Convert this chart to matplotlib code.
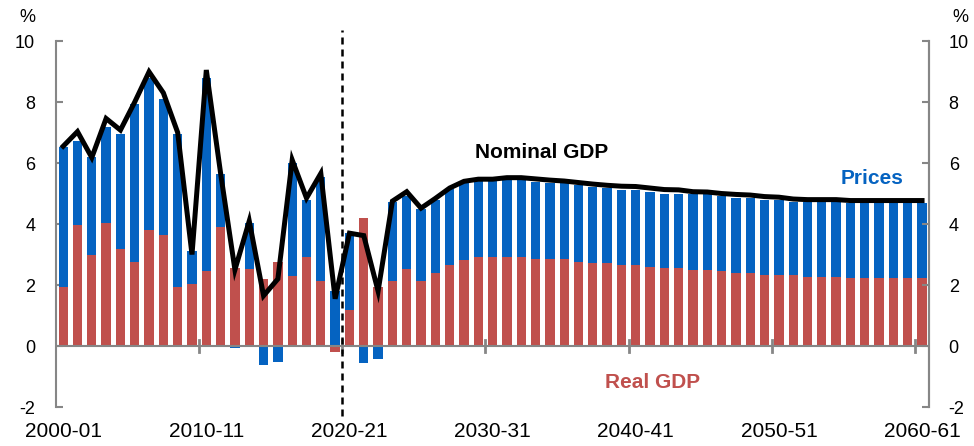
import matplotlib
matplotlib.use("Agg")
import matplotlib.pyplot as plt
import numpy as np

plt.rcParams['font.family'] = ['Liberation Sans', 'DejaVu Sans']
plt.rcParams['axes.unicode_minus'] = False

# financial years 2000-01 .. 2060-61
years = [f"{y}-{(y + 1) % 100:02d}" for y in range(2000, 2061)]

real_gdp = [1.92, 3.96, 2.97, 4.02, 3.17, 2.77, 3.80, 3.65, 1.92, 2.03,
            2.46, 3.89, 2.55, 2.51, 2.20, 2.77, 2.30, 2.92, 2.13, -0.21,
            1.18, 4.19, 1.95, 2.13, 2.51, 2.13, 2.39, 2.66, 2.82, 2.92,
            2.92, 2.92, 2.92, 2.86, 2.86, 2.86, 2.77, 2.71, 2.71, 2.66,
            2.66, 2.60, 2.55, 2.55, 2.49, 2.49, 2.46, 2.38, 2.38, 2.33,
            2.33, 2.33, 2.27, 2.27, 2.27, 2.22, 2.22, 2.22, 2.22, 2.22,
            2.22]

prices = [4.61, 2.77, 3.24, 3.17, 3.77, 5.16, 4.98, 4.44, 5.02, 1.10,
          6.32, 1.75, -0.05, 1.51, -0.62, -0.54, 3.69, 1.87, 3.41, 1.80,
          2.51, -0.57, -0.43, 2.60, 2.42, 2.36, 2.40, 2.48, 2.57, 2.52,
          2.52, 2.52, 2.52, 2.53, 2.47, 2.47, 2.51, 2.51, 2.48, 2.45,
          2.45, 2.46, 2.45, 2.45, 2.48, 2.48, 2.46, 2.48, 2.48, 2.47,
          2.47, 2.40, 2.46, 2.46, 2.46, 2.48, 2.48, 2.48, 2.48, 2.48,
          2.48]

nominal_gdp = [6.55, 7.03, 6.18, 7.46, 7.08, 8.00, 8.99, 8.30, 7.00, 3.00,
               9.05, 5.66, 2.50, 4.10, 1.65, 2.20, 6.10, 4.85, 5.66, 1.55,
               3.70, 3.62, 1.80, 4.75, 5.06, 4.52, 4.84, 5.18, 5.40, 5.47,
               5.47, 5.52, 5.52, 5.48, 5.44, 5.41, 5.36, 5.31, 5.27, 5.24,
               5.23, 5.18, 5.13, 5.12, 5.06, 5.05, 5.00, 4.97, 4.95, 4.90,
               4.88, 4.82, 4.80, 4.80, 4.80, 4.77, 4.77, 4.77, 4.77, 4.77,
               4.77]

blue = '#0563C1'
red = '#C0504D'
grey = '#868686'

x = np.arange(len(years))
real = np.array(real_gdp)
pr = np.array(prices)
# Excel-style stacking: negatives stack below zero separately
pr_bottom = np.where(pr >= 0, np.maximum(real, 0), np.minimum(real, 0))

fig = plt.figure(figsize=(9.74, 4.46), dpi=100)
ax = fig.add_axes([0.0575, 0.0874, 0.8965, 0.8206])

ax.bar(x, real, width=0.65, color=red, zorder=2)
ax.bar(x, pr, bottom=pr_bottom, width=0.65, color=blue, zorder=2)
ax.plot(x, nominal_gdp, color='black', linewidth=3.6, zorder=4,
        solid_joinstyle='miter')

ax.axhline(0, color=grey, linewidth=1.5, zorder=3)
ax.axvline(19.5, ymin=-0.025, ymax=1.03, color='black', linewidth=1.8,
           linestyle=(0, (2.8, 2.0)), clip_on=False, zorder=5)

ax.set_xlim(-0.5, len(years) - 0.5)
ax.set_ylim(-2, 10)
ax.set_yticks(range(-2, 11, 2))

# x axis: labels under the plot, tick marks on the zero line
ax.spines['top'].set_visible(False)
ax.spines['bottom'].set_visible(False)
ax.set_xticks(x[::10])
ax.set_xticklabels(years[::10])
ax.tick_params(axis='x', which='major', length=0, pad=11, labelsize=15)
for b in np.arange(9.5, len(years) - 1, 10):
    ax.plot([b, b], [-0.2, 0.2], color=grey, linewidth=2, zorder=3)

for side in ('left', 'right'):
    ax.spines[side].set_color(grey)
    ax.spines[side].set_linewidth(1.5)

ax.tick_params(axis='y', direction='in', length=5, width=1.5, color=grey,
               labelsize=13, pad=15)

ax2 = ax.twinx()
ax2.set_ylim(-2, 10)
ax2.set_yticks(range(-2, 11, 2))
for s in ('top', 'bottom', 'left'):
    ax2.spines[s].set_visible(False)
ax2.spines['right'].set_color(grey)
ax2.spines['right'].set_linewidth(1.5)
ax2.tick_params(axis='y', direction='in', length=5, width=1.5, color=grey,
                labelsize=13, pad=14)

fig.text(27 / 974, 1 - 18 / 446, '%', ha='center', va='center', fontsize=13)
fig.text(960 / 974, 1 - 18 / 446, '%', ha='center', va='center', fontsize=13)

ax.text(33.4, 6.36, 'Nominal GDP', color='black', fontsize=15,
        fontweight='bold', ha='center', va='center')
ax.text(56.5, 5.5, 'Prices', color=blue, fontsize=15,
        fontweight='bold', ha='center', va='center')
ax.text(41.2, -1.18, 'Real GDP', color=red, fontsize=15,
        fontweight='bold', ha='center', va='center')

fig.savefig('out.png', dpi=100)
